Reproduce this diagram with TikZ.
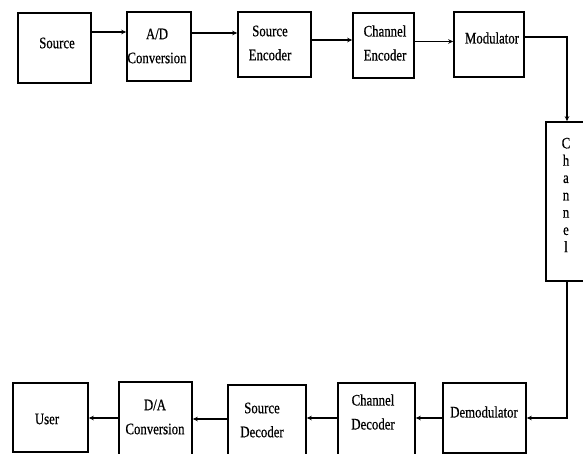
\documentclass[tikz,border=0pt]{standalone}
\usepackage{fontspec}
\newfontfamily\nar[FakeStretch=0.8,FakeBold=0.6]{Liberation Serif}
\usetikzlibrary{arrows.meta}
\begin{document}
\begin{tikzpicture}[x=1pt,y=-1pt,
  blk/.style={draw=black,line width=1.6pt,inner sep=0pt},
  lbl/.style={font=\nar\fontsize{16}{24}\selectfont,align=center,inner sep=0pt},
  arr/.style={line width=1.4pt,-{Stealth[length=5pt,width=4.5pt]}},
  ln/.style={line width=1.4pt}]
\useasboundingbox (0,0) rectangle (583,454);
% top row
\node[blk,minimum width=73pt,minimum height=70pt] (src) at (54.5,48) {};
\node[blk,minimum width=64pt,minimum height=69pt] (ad) at (159,46.5) {};
\node[blk,minimum width=73pt,minimum height=65pt] (se) at (274.5,44.5) {};
\node[blk,minimum width=61pt,minimum height=65pt] (ce) at (383.5,45.5) {};
\node[blk,minimum width=70pt,minimum height=65pt] (mod) at (489,44.5) {};
\node[blk,minimum width=42pt,minimum height=159pt] (chan) at (567,201.5) {};
% bottom row
\node[blk,minimum width=75pt,minimum height=69pt] (user) at (50.5,417.5) {};
\node[blk,minimum width=73pt,minimum height=88pt] (da) at (155.5,426) {};
\node[blk,minimum width=78pt,minimum height=85pt] (sd) at (267,427.5) {};
\node[blk,minimum width=77pt,minimum height=87pt] (cd) at (376.5,426.5) {};
\node[blk,minimum width=83pt,minimum height=70pt] (dem) at (484.5,418) {};
% labels
\node[lbl] (tsrc) at (57,43) {Source};
\node[lbl] (tad) at (157,46) {A/D\\Conversion};
\node[lbl] (tse) at (270,43) {Source\\Encoder};
\node[lbl] (tce) at (385,43) {Channel\\Encoder};
\node[lbl] (tmod) at (492,38) {Modulator};
\node[lbl,font=\nar\fontsize{16}{17.3}\selectfont] (tchan) at (566,195) {C\\h\\a\\n\\n\\e\\l};
\node[lbl] (tuser) at (47,419) {User};
\node[lbl] (tda) at (155,417) {D/A\\Conversion};
\node[lbl] (tsd) at (262,420) {Source\\Decoder};
\node[lbl] (tcd) at (373,412) {Channel\\Decoder};
\node[lbl] (tdem) at (484,412) {Demodulator};
% coordinates for bends
\coordinate (c1) at (567,37);
\coordinate (c2) at (567,418);
% top connectors
\draw[arr] (src.east |- 0,32) -- (ad.west |- 0,32);
\draw[arr] (ad.east |- 0,33) -- (se.west |- 0,33);
\draw[arr] (se.east |- 0,40) -- (ce.west |- 0,40);
\draw[arr] (ce.east |- 0,41.5) -- (mod.west |- 0,41.5);
\draw[arr] (mod.east |- c1) -- (c1) -- (c1 |- chan.north);
% bottom connectors
\draw[arr] (c2 |- chan.south) -- (c2) -- (dem.east |- c2);
\draw[arr] (dem.west |- 0,418) -- (cd.east |- 0,418);
\draw[arr] (cd.west |- 0,418) -- (sd.east |- 0,418);
\draw[arr] (sd.west |- 0,419) -- (da.east |- 0,419);
\draw[arr] (da.west |- 0,418) -- (user.east |- 0,418);
\end{tikzpicture}
\end{document}
